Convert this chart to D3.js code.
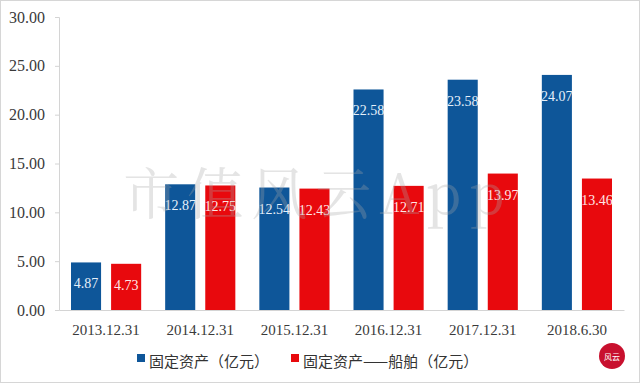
<!DOCTYPE html>
<html><head><meta charset="utf-8">
<script src="https://cdn.jsdelivr.net/npm/d3@7"></script>
<style>html,body{margin:0;padding:0;background:#fff;}svg{display:block;}</style>
</head><body>
<svg id="c" width="640" height="383"></svg>
<script>
const categories = ["2013.12.31","2014.12.31","2015.12.31","2016.12.31","2017.12.31","2018.6.30"];
const seriesNames = ["固定资产（亿元）","固定资产——船舶（亿元）"];
const fixedAssets = [4.87,12.87,12.54,22.58,23.58,24.07];
const shipAssets = [4.73,12.75,12.43,12.71,13.97,13.46];
const yTicks = [0,5,10,15,20,25,30];

const colors = ["#0e5699","#e8090d"];
const labelColors = ["#e6f0fa","#ffe6e6"];
const svg = d3.select("#c");
svg.append("rect").attr("x",0.5).attr("y",0.5).attr("width",639).attr("height",382)
  .attr("fill","#fff").attr("stroke","#d6d6d6");

const x0 = d3.scaleBand().domain(categories).range([59,624]).paddingInner(0).paddingOuter(0);
const x1 = d3.scaleBand().domain([0,1]).range([12, x0.bandwidth()-12]).paddingInner(0.25);
const y = d3.scaleLinear().domain([0,30]).range([310,17]);

// y axis
const yAxis = d3.axisLeft(y).tickValues(yTicks).tickFormat(d3.format(".2f")).tickSize(4).tickPadding(10);
const ya = svg.append("g").attr("transform","translate(59,0)").call(yAxis);
ya.select(".domain").attr("stroke","#d4d4d4");
ya.selectAll(".tick line").attr("stroke","#d4d4d4");
ya.selectAll("text").attr("font-family","'Liberation Serif',serif").attr("font-size",16).attr("fill","#3a3a3a");

// x axis
const xAxis = d3.axisBottom(x0).tickSize(0).tickPadding(14);
const xa = svg.append("g").attr("transform","translate(0,310)").call(xAxis);
xa.select(".domain").attr("stroke","#d4d4d4");
xa.selectAll("text").attr("font-family","'Liberation Serif',serif").attr("font-size",15).attr("fill","#3a3a3a");

const data = categories.map((c,i)=>({c, v:[fixedAssets[i], shipAssets[i]]}));
const g = svg.append("g").selectAll("g").data(data).join("g")
  .attr("transform",d=>`translate(${x0(d.c)},0)`);
g.selectAll("rect").data(d=>d.v.map((v,k)=>({v,k}))).join("rect")
  .attr("x",d=>x1(d.k)).attr("width",x1.bandwidth())
  .attr("y",d=>y(d.v)).attr("height",d=>y(0)-y(d.v))
  .attr("fill",d=>colors[d.k]);

// watermark (drawn over the bars, faint)
svg.append("text").attr("x",318).attr("y",214).attr("text-anchor","middle")
  .attr("font-family","'Noto Serif CJK SC','Noto Sans CJK SC',serif").attr("font-size",56)
  .attr("fill","#a8a8a8").attr("opacity",0.3).attr("letter-spacing",8).text("市值风云App");

g.selectAll("text").data(d=>d.v.map((v,k)=>({v,k}))).join("text")
  .attr("x",d=>x1(d.k)+x1.bandwidth()/2).attr("y",d=>y(d.v)+26)
  .attr("text-anchor","middle").attr("font-family","'Liberation Serif',serif").attr("font-size",14)
  .attr("fill",d=>labelColors[d.k]).text(d=>d.v.toFixed(2));

// legend
const legX = [137,291];
seriesNames.forEach((n,k)=>{
  svg.append("rect").attr("x",legX[k]).attr("y",354).attr("width",8).attr("height",8).attr("fill",colors[k]);
  svg.append("text").attr("x",legX[k]+12).attr("y",367).attr("font-family","'Noto Sans CJK SC',sans-serif")
    .attr("font-size",15).attr("fill","#333").text(n);
});

// logo
svg.append("circle").attr("cx",612).attr("cy",356).attr("r",13).attr("fill","#c8102e");
svg.append("text").attr("x",612).attr("y",360).attr("text-anchor","middle").attr("font-family","'Noto Sans CJK SC',sans-serif")
  .attr("font-size",8).attr("fill","#fff").text("风云");
</script>
</body></html>
